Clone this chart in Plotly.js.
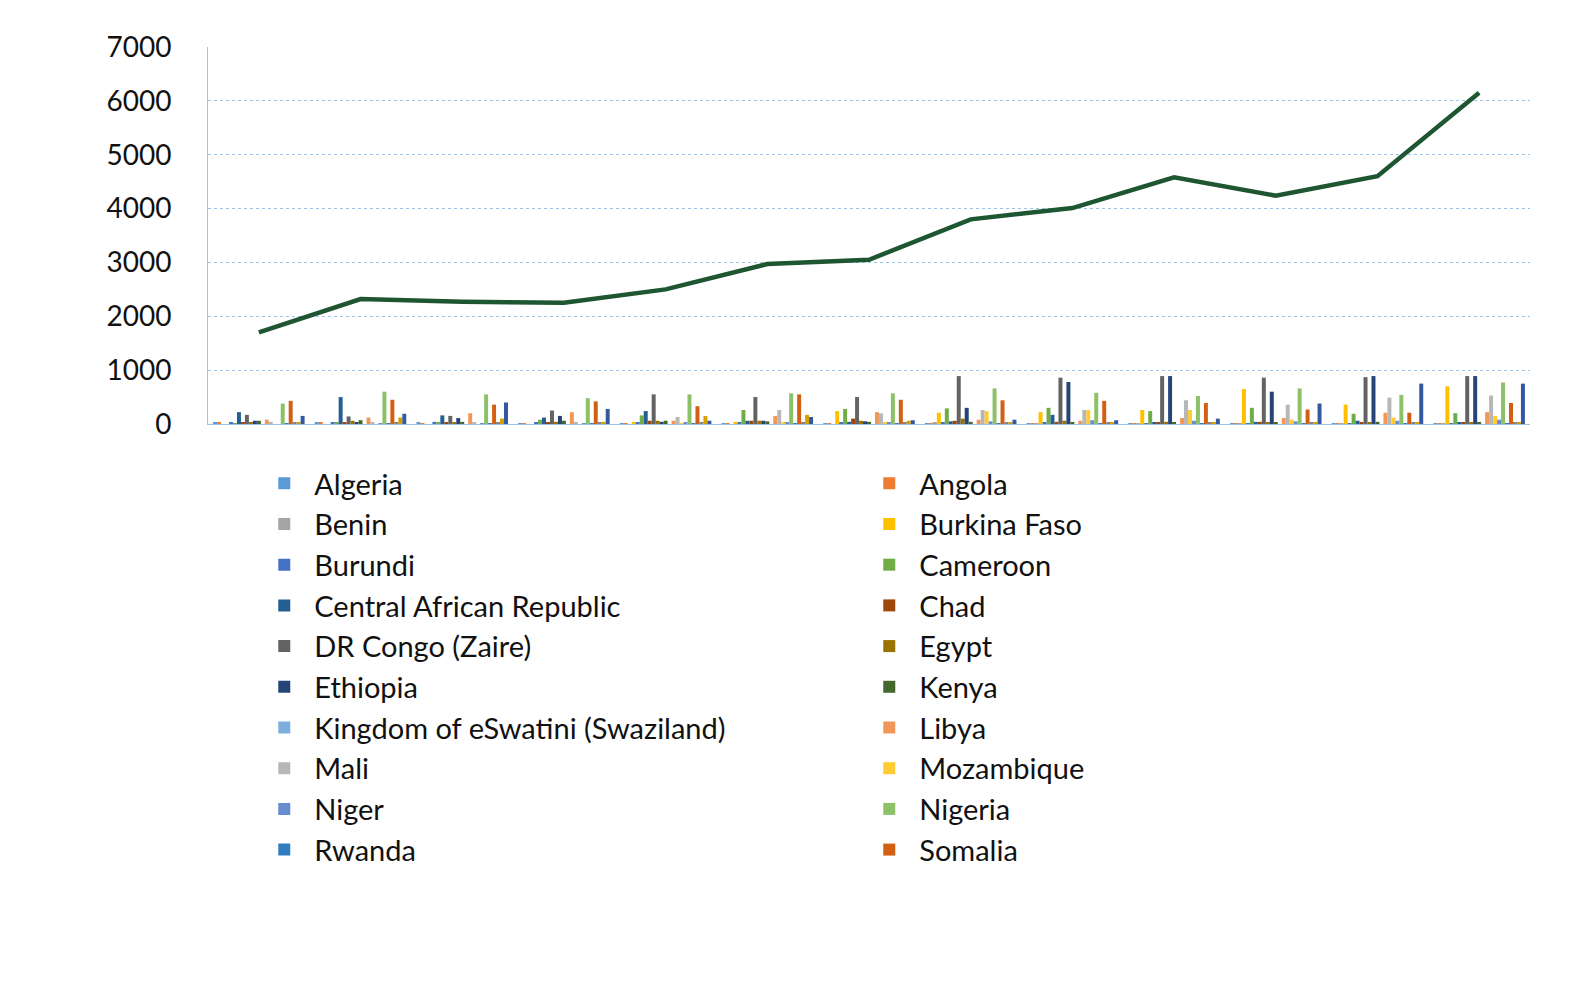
<!DOCTYPE html>
<html>
<head>
<meta charset="utf-8">
<script src="https://cdn.plot.ly/plotly-3.0.1.min.js"></script>
<style>body{margin:0;background:#fff}#chart{width:1588px;height:991px}</style>
</head>
<body>
<div id="chart"></div>
<script>
const years = ["2010","2011","2012","2013","2014","2015","2016","2017","2018","2019","2020","2021","2022"];
const total = [1700, 2320, 2270, 2250, 2500, 2970, 3050, 3800, 4010, 4580, 4240, 4600, 6150];

const countries = ["Algeria","Angola","Benin","Burkina Faso","Burundi","Cameroon","Central African Republic","Chad",
  "DR Congo (Zaire)","Egypt","Ethiopia","Kenya","Kingdom of eSwatini (Swaziland)","Libya","Mali","Mozambique",
  "Niger","Nigeria","Rwanda","Somalia","South Africa","South Sudan","Sudan"];
const colors = ["#5B9BD5","#ED7D31","#A5A5A5","#FFC000","#4472C4","#70AD47","#255E91","#9E480E",
  "#636363","#997300","#264478","#43682B","#7CAFDD","#F1975A","#B7B7B7","#FFCD33",
  "#698ED0","#8CC168","#327DC2","#D26012","#848484","#D5A000","#335AA1"];

const algeria    = [30, 20, 20, 10, 10, 10, 10, 10, 10, 10, 10, 10, 10];
const angola     = [20, 20, 10, 10, 10, 10, 10, 10, 10, 10, 10, 10, 10];
const benin      = [0, 0, 0, 0, 0, 0, 0, 20, 10, 10, 10, 10, 10];
const burkina    = [0, 0, 0, 0, 20, 40, 240, 210, 220, 260, 650, 360, 700];
const burundi    = [20, 30, 40, 30, 20, 20, 20, 20, 20, 10, 10, 10, 10];
const cameroon   = [10, 20, 30, 80, 160, 260, 280, 290, 300, 240, 300, 190, 200];
const car        = [220, 500, 160, 120, 240, 60, 40, 50, 170, 30, 40, 60, 30];
const chad       = [30, 20, 20, 30, 60, 60, 100, 60, 40, 30, 40, 30, 30];
const drc        = [170, 140, 150, 250, 550, 500, 500, 890, 860, 890, 860, 870, 890];
const egypt      = [20, 60, 30, 40, 60, 60, 60, 100, 60, 40, 30, 30, 20];
const ethiopia   = [60, 20, 110, 150, 40, 60, 50, 300, 780, 890, 600, 890, 890];
const kenya      = [60, 70, 40, 60, 60, 50, 40, 40, 30, 30, 30, 40, 30];
const eswatini   = [0, 0, 0, 0, 0, 0, 0, 0, 0, 0, 0, 0, 0];
const libya      = [80, 120, 200, 220, 60, 150, 220, 80, 60, 110, 110, 210, 220];
const mali       = [40, 30, 30, 40, 130, 260, 200, 260, 260, 440, 360, 490, 530];
const mozambique = [0, 0, 0, 0, 10, 20, 30, 240, 260, 260, 80, 120, 150];
const niger      = [0, 10, 10, 10, 20, 20, 30, 50, 70, 60, 50, 60, 80];
const nigeria    = [380, 600, 550, 480, 550, 570, 570, 660, 580, 520, 660, 540, 770];
const rwanda     = [10, 10, 10, 10, 10, 10, 10, 10, 10, 10, 10, 10, 10];
const somalia    = [430, 450, 360, 420, 330, 550, 450, 440, 430, 390, 270, 210, 390];
const southAfrica= [20, 20, 20, 20, 20, 20, 20, 20, 20, 20, 20, 20, 20];
const southSudan = [20, 120, 100, 40, 150, 170, 60, 30, 30, 30, 30, 30, 30];
const sudan      = [150, 190, 400, 280, 60, 130, 70, 80, 70, 100, 380, 750, 750];

const series = [algeria, angola, benin, burkina, burundi, cameroon, car, chad, drc, egypt, ethiopia, kenya,
  eswatini, libya, mali, mozambique, niger, nigeria, rwanda, somalia, southAfrica, southSudan, sudan];

const traces = series.map((vals, i) => ({
  type: "bar", x: years, y: vals, name: countries[i],
  marker: { color: colors[i] }, showlegend: i < 20
}));
traces.push({
  type: "scatter", mode: "lines", x: years, y: total, name: "Total",
  line: { color: "#1E5631", width: 4.5 }, showlegend: false
});

const layout = {
  width: 1588, height: 991,
  margin: { l: 208, r: 58, t: 47, b: 567 },
  barmode: "group", bargap: 0.1, bargroupgap: 0,
  font: { family: "Lato, 'Open Sans', sans-serif", size: 28, color: "#111" },
  paper_bgcolor: "#fff", plot_bgcolor: "#fff",
  xaxis: { showticklabels: false, showgrid: false, zeroline: false,
    showline: true, linecolor: "#9cc3e6", linewidth: 1, automargin: false },
  yaxis: { range: [0, 7000], dtick: 1000, showgrid: true, gridcolor: "#9cc3e6",
    griddash: "dot", gridwidth: 1, zeroline: false, ticklen: 0, ticks: "",
    tickfont: { size: 28 }, showline: true, linecolor: "#9cc3e6", linewidth: 1,
    automargin: false, ticklabelstandoff: 30 },
  legend: { orientation: "h", x: 0.035, y: -0.09, xanchor: "left", yanchor: "top",
    entrywidth: 540, entrywidthmode: "pixels", font: { size: 29 }, itemwidth: 50,
    traceorder: "normal" }
};

Plotly.newPlot("chart", traces, layout, { displayModeBar: false });
</script>
</body>
</html>
